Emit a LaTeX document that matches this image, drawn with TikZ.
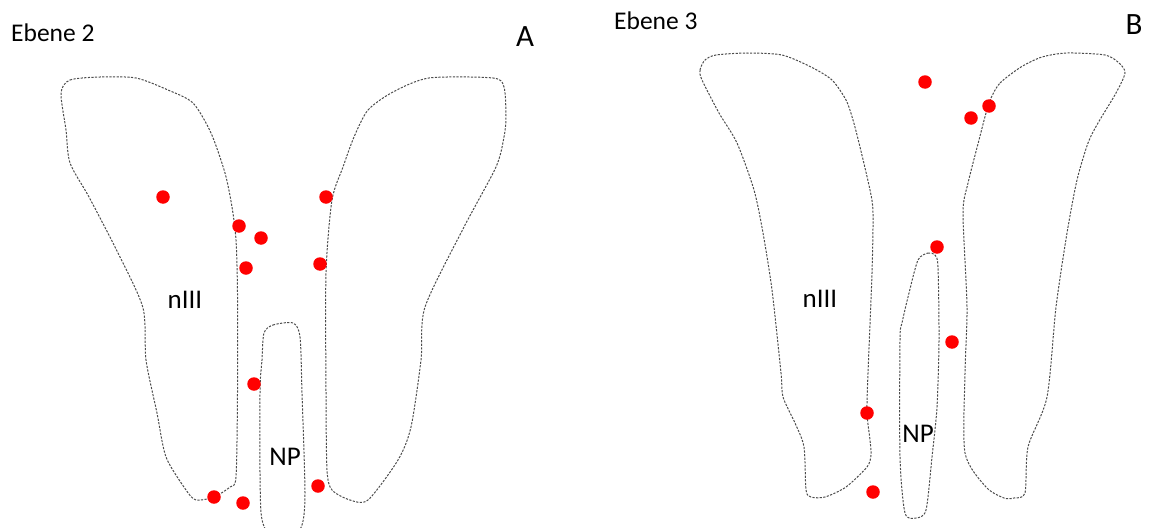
\documentclass[tikz,border=0pt]{standalone}
\usepackage{fontspec}
\setmainfont{Carlito}
\begin{document}
\begin{tikzpicture}[x=1pt,y=-1pt,
  outline/.style={draw=black!70,line width=1pt,dash pattern=on 2.2pt off 1.4pt},
  spot/.style={circle,fill=red,inner sep=0pt,minimum size=13.5pt},
  region/.style={font=\fontsize{27}{30}\selectfont,inner sep=0pt},
  planelabel/.style={font=\fontsize{25.5}{28}\selectfont,anchor=west,inner sep=0pt},
  panel/.style={font=\fontsize{31}{34}\selectfont,inner sep=0pt}]
\useasboundingbox (0,0) rectangle (1150,527);
\clip (0,0) rectangle (1150,527);

% ---------- Panel A: Ebene 2 ----------
\node[planelabel] (ebeneA) at (11,33) {Ebene 2};
\node[panel] (labA) at (525,37) {A};

% left nIII lobe
\draw[outline] plot[smooth cycle,tension=0.45] coordinates {
  (61,93) (70,80) (100,77) (136,78) (168,90) (193,103) (211,133)
  (225,173) (232,207) (236,240) (237.5,293) (237.5,393) (236,477)
  (230,487) (214,497) (196,500) (186,490) (166,457) (157,413)
  (146,360) (143,308) (118,253) (89,197) (70,163) (66,130)};
% right nIII lobe
\draw[outline] plot[smooth cycle,tension=0.45] coordinates {
  (354,137) (368,110) (393,92) (429,78) (493,78) (504,87) (506,117)
  (504,137) (496,167) (464,227) (425,307) (421,360) (411,427)
  (398,460) (368,500) (350,500) (332,490) (327,470) (326,393)
  (326,273) (332,200) (343,167)};
% NP
\draw[outline] plot[smooth cycle,tension=0.45] coordinates {
  (264,333) (273,325) (293,323) (300,337) (302,393) (305,493)
  (302,525) (290,540) (272,537) (261,512) (260,393) (262,360)};

\node[region] (nIIIA) at (185,300) {nIII};
\node[region] (NPA) at (285,457) {NP};

\node[spot] (a1) at (163,197) {};
\node[spot] (a2) at (239,226) {};
\node[spot] (a3) at (261,238) {};
\node[spot] (a4) at (246,268) {};
\node[spot] (a5) at (326,197) {};
\node[spot] (a6) at (320,264) {};
\node[spot] (a7) at (254,384) {};
\node[spot] (a8) at (214,497) {};
\node[spot] (a9) at (243,503) {};
\node[spot] (a10) at (318,486) {};

% ---------- Panel B: Ebene 3 ----------
\node[planelabel] (ebeneB) at (614,21) {Ebene 3};
\node[panel] (labB) at (1134,25) {B};

% left nIII lobe
\draw[outline] plot[smooth cycle,tension=0.45] coordinates {
  (702,80) (700,70) (705,60) (716,55) (747,53) (782,55) (811,67)
  (832,80) (846,100) (853,120) (860,147) (870,190) (873,213)
  (872,273) (868,373) (867,413) (870,440) (871,455) (867,467)
  (846,487) (825,497) (811,497) (806,490) (804,447) (795,423)
  (783,397) (781,373) (772,290) (763,233) (754,190) (737,143) (719,113)};
% right nIII lobe
\draw[outline] plot[smooth cycle,tension=0.45] coordinates {
  (991,98) (1000,83) (1021,67) (1042,57) (1067,53) (1105,55)
  (1119,63) (1125,73) (1116,93) (1098,123) (1088,143) (1077,180)
  (1067,233) (1056,307) (1047,397) (1028,447) (1025,493) (1014,498)
  (1004,498) (986,487) (965,453) (965,373) (967,307) (963,213)
  (968,183) (979,140) (986,113)};
% NP
\draw[outline] plot[smooth cycle,tension=0.45] coordinates {
  (918,260) (928,253) (935,255) (938,267) (939,340) (937,407)
  (932,457) (926,510) (916,518) (905,513) (900,457) (900,340)
  (902,323) (909,293)};

\node[region] (nIIIB) at (820,299) {nIII};
\node[region] (NPB) at (918,434) {NP};

\node[spot] (b1) at (925,82) {};
\node[spot] (b2) at (989,106) {};
\node[spot] (b3) at (971,118) {};
\node[spot] (b4) at (937,247) {};
\node[spot] (b5) at (952,342) {};
\node[spot] (b6) at (867,413) {};
\node[spot] (b7) at (873,492) {};
\end{tikzpicture}
\end{document}
